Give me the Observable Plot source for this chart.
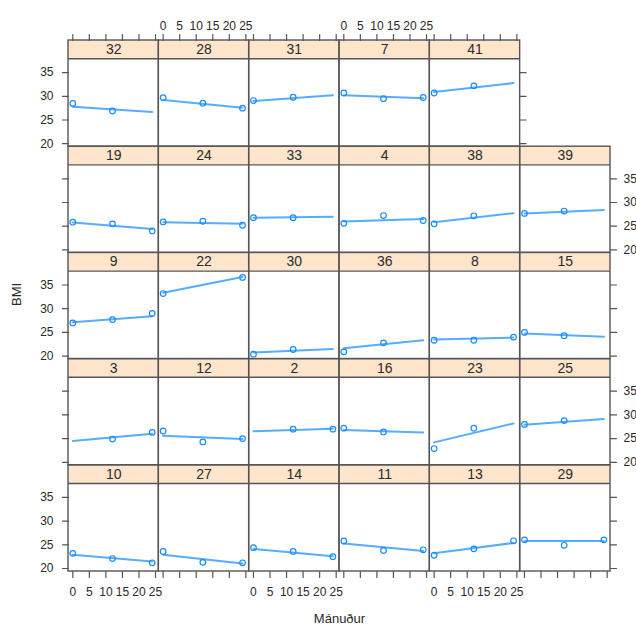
<!DOCTYPE html>
<html>
<head>
<meta charset="utf-8">
<script src="https://cdn.jsdelivr.net/npm/d3@7"></script>
<script src="https://cdn.jsdelivr.net/npm/@observablehq/plot@0.6"></script>
<style>
  body { margin: 0; background: #fff; }
  #chart svg { display: block; }
</style>
</head>
<body>
<div id="chart"></div>
<script>
// ---- data (panel order: top row first, left to right) ----
const rowLengths = [5, 6, 6, 6, 6];
const subjects = ["32","28","31","7","41",
                  "19","24","33","4","38","39",
                  "9","22","30","36","8","15",
                  "3","12","2","16","23","25",
                  "10","27","14","11","13","29"];
const months = [0, 12, 24];
const bmiMonth0  = [28.5, 29.7, 29.1, 30.7, 30.7,
                    25.85, 25.9, 26.8, 25.6, 25.5, 27.7,
                    27.0, 33.2, 20.4, 20.9, 23.35, 25.0,
                    null, 26.6, null, 27.2, 22.9, 28.0,
                    23.2, 23.6, 24.4, 25.8, 22.8, 26.05];
const bmiMonth12 = [26.9, 28.55, 29.8, 29.5, 32.2,
                    25.5, 26.05, 26.8, 27.25, 27.2, 28.2,
                    27.7, null, 21.4, 22.8, 23.35, 24.3,
                    24.9, 24.3, 27.0, 26.4, 27.2, 28.8,
                    22.1, 21.3, 23.6, 23.8, 24.15, 24.9];
const bmiMonth24 = [null, 27.5, null, 29.75, null,
                    24.0, 25.2, null, 26.2, null, null,
                    29.0, 36.6, null, null, 24.0, null,
                    26.3, 25.0, 27.0, null, null, null,
                    21.2, 21.2, 22.5, 23.95, 25.85, 26.05];
const fitMonth0  = [27.8, 29.2, 29.0, 30.2, 30.9,
                    25.8, 25.85, 26.8, 26.0, 25.85, 27.7,
                    27.15, 33.35, 20.75, 21.65, 23.5, 24.75,
                    24.5, 25.6, 26.55, 26.8, 24.2, 27.9,
                    22.9, 22.9, 24.15, 25.3, 23.2, 25.8];
const fitMonth24 = [26.7, 27.6, 30.2, 29.6, 32.8,
                    24.4, 25.5, 27.0, 26.5, 27.75, 28.4,
                    28.4, 36.7, 21.5, 23.35, 23.9, 24.1,
                    26.0, 24.9, 27.1, 26.3, 28.2, 29.15,
                    21.5, 21.05, 22.6, 23.7, 25.4, 25.8];
const xTicks = [0, 5, 10, 15, 20, 25];
const yTicks = [20, 25, 30, 35];
const xLabel = "Mánuður";
const yLabel = "BMI";

// ---- scale settings ----
const xDomain = [-1.3, 26];
const yMin = 19.37, stripLo = 37.93, yMax = 41.77;
const nCols = 6, nRows = rowLengths.length;

// ---- build tables ----
const panels = [];
{
  let k = 0;
  rowLengths.forEach((n, row) => {
    for (let col = 0; col < n; col++, k++) {
      panels.push({id: subjects[k], idx: k, row, col, last: col === n - 1});
    }
  });
}
const points = [];
const fits = [];
const series = [bmiMonth0, bmiMonth12, bmiMonth24];
panels.forEach(p => {
  months.forEach((m, j) => {
    const v = series[j][p.idx];
    if (v != null) points.push({row: p.row, col: p.col, month: m, bmi: v});
  });
  fits.push({row: p.row, col: p.col, id: p.id, month: months[0], bmi: fitMonth0[p.idx]});
  fits.push({row: p.row, col: p.col, id: p.id, month: months[2], bmi: fitMonth24[p.idx]});
});

const leftAxis = [], rightAxis = [], bottomAxis = [], topAxis = [];
panels.forEach(p => {
  if (p.col === 0) yTicks.forEach(v => leftAxis.push({row: p.row, col: p.col, v, lab: p.row % 2 === 0}));
  if (p.last) yTicks.forEach(v => rightAxis.push({row: p.row, col: p.col, v, lab: p.row % 2 === 1}));
  if (p.row === nRows - 1) xTicks.forEach(v => bottomAxis.push({row: p.row, col: p.col, v, lab: p.col % 2 === 0}));
  if (p.row === 0) xTicks.forEach(v => topAxis.push({row: p.row, col: p.col, v, lab: p.col % 2 === 1}));
});

const tickShape = {draw(ctx, l) { ctx.moveTo(0, 0); ctx.lineTo(0, -l); }};
const axisColor = "#555";
const txtColor = "#2a2a2a";
const tickLen = 6;
const fxy = {fx: "col", fy: "row"};

const chart = Plot.plot({
  width: 636,
  height: 630,
  marginLeft: 68,
  marginRight: 26,
  marginTop: 40,
  marginBottom: 59,
  style: {fontFamily: "'Liberation Sans', Arial, sans-serif", fontSize: "12px", color: txtColor, background: "#fff"},
  fx: {domain: d3.range(nCols), axis: null, padding: 0, round: false},
  fy: {domain: d3.range(nRows), axis: null, padding: 0, round: false},
  x: {domain: xDomain, axis: null},
  y: {domain: [yMin, yMax], axis: null},
  marks: [
    // strip background
    Plot.rect(panels, {...fxy, y1: () => stripLo, y2: () => yMax, fill: "#ffe5cc"}),
    // fitted lines
    Plot.line(fits, {...fxy, x: "month", y: "bmi", z: "id", stroke: "#55adff", strokeWidth: 2}),
    // observed points
    Plot.dot(points, {...fxy, x: "month", y: "bmi", r: 2.8, stroke: "#1a8cff", strokeWidth: 1.2, fill: "none"}),
    // strip label
    Plot.text(panels, {...fxy, text: "id", y: () => (stripLo + yMax) / 2, frameAnchor: "middle", fontSize: 14, fill: txtColor}),
    // panel borders
    Plot.rect(panels, {...fxy, fill: "none", stroke: axisColor, strokeWidth: 1.4}),
    Plot.ruleY(panels, {...fxy, y: () => stripLo, stroke: axisColor, strokeWidth: 1.4}),
    // left axis
    Plot.vector(leftAxis, {...fxy, y: "v", frameAnchor: "left", rotate: -90, length: tickLen, anchor: "start", shape: tickShape, stroke: axisColor, strokeWidth: 1.2}),
    Plot.text(leftAxis.filter(d => d.lab), {...fxy, y: "v", text: d => String(d.v), frameAnchor: "left", dx: -15, textAnchor: "end", fill: txtColor}),
    // right axis
    Plot.vector(rightAxis, {...fxy, y: "v", frameAnchor: "right", rotate: 90, length: tickLen, anchor: "start", shape: tickShape, stroke: axisColor, strokeWidth: 1.2}),
    Plot.text(rightAxis.filter(d => d.lab), {...fxy, y: "v", text: d => String(d.v), frameAnchor: "right", dx: 13, textAnchor: "start", fill: txtColor}),
    // bottom axis
    Plot.vector(bottomAxis, {...fxy, x: "v", frameAnchor: "bottom", rotate: 180, length: tickLen, anchor: "start", shape: tickShape, stroke: axisColor, strokeWidth: 1.2}),
    Plot.text(bottomAxis.filter(d => d.lab), {...fxy, x: "v", text: d => String(d.v), frameAnchor: "bottom", dy: 24, fill: txtColor}),
    // top axis
    Plot.vector(topAxis, {...fxy, x: "v", frameAnchor: "top", rotate: 0, length: tickLen, anchor: "start", shape: tickShape, stroke: axisColor, strokeWidth: 1.2}),
    Plot.text(topAxis.filter(d => d.lab), {...fxy, x: "v", text: d => String(d.v), frameAnchor: "top", dy: -19, fill: txtColor}),
    // axis titles
    Plot.text([xLabel], {text: d => d, frameAnchor: "bottom", dy: 51, facet: "super", fontSize: 13, fill: txtColor}),
    Plot.text([yLabel], {text: d => d, frameAnchor: "left", dx: -52, rotate: -90, facet: "super", fontSize: 13, fill: txtColor})
  ]
});
document.getElementById("chart").appendChild(chart);
</script>
</body>
</html>
